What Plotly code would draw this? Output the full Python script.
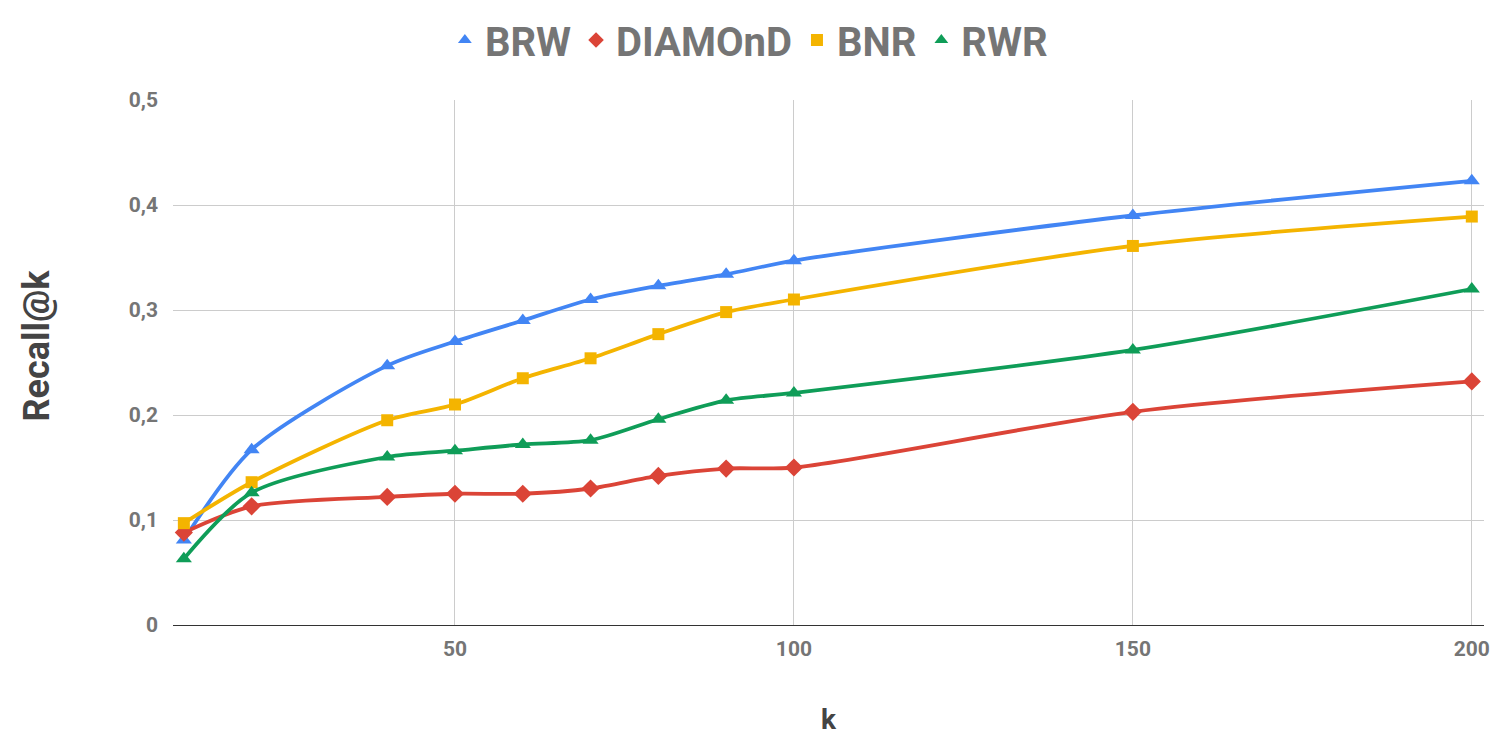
import plotly.graph_objects as go

k = [10, 20, 40, 50, 60, 70, 80, 90, 100, 150, 200]

brw = [0.081, 0.167, 0.247, 0.270, 0.290, 0.310, 0.323, 0.334, 0.347, 0.390, 0.423]
diamond = [0.088, 0.113, 0.122, 0.125, 0.125, 0.130, 0.142, 0.149, 0.150, 0.203, 0.232]
bnr = [0.097, 0.136, 0.195, 0.210, 0.235, 0.254, 0.277, 0.298, 0.310, 0.361, 0.389]
rwr = [0.063, 0.126, 0.160, 0.166, 0.172, 0.176, 0.196, 0.214, 0.221, 0.262, 0.320]

x_ticks = [50, 100, 150, 200]
y_ticks = [0, 0.1, 0.2, 0.3, 0.4, 0.5]

series = [
    ("BRW", brw, "#4285F4", "triangle-up", 14),
    ("DIAMOnD", diamond, "#DB4437", "diamond", 14),
    ("BNR", bnr, "#F4B400", "square", 12),
    ("RWR", rwr, "#0F9D58", "triangle-up", 14),
]

FONT = "Roboto"

fig = go.Figure()

# lines drawn first, legend handled by marker-only stand-ins
for name, values, color, symbol, size in series:
    fig.add_trace(go.Scatter(
        x=k, y=values, name=name, mode="lines+markers",
        line=dict(color=color, width=3.8, shape="spline", smoothing=0.8),
        marker=dict(symbol=symbol, size=size, color=color),
        showlegend=False,
    ))

for name, values, color, symbol, size in series:
    fig.add_trace(go.Scatter(
        x=[None], y=[None], name=name, mode="markers",
        marker=dict(symbol=symbol, size=12, color=color),
    ))

# the page body adds an 8px offset, margins account for it
fig.update_layout(
    width=1512, height=736,
    paper_bgcolor="white", plot_bgcolor="white",
    margin=dict(l=165, r=36, t=92, b=119),
    separators=", ",
    font=dict(family=FONT),
    legend=dict(
        orientation="h", xref="container", yref="container",
        x=0.49, xanchor="center", y=1 - 32 / 736, yanchor="middle",
        font=dict(size=40, color="#757575", weight="bold"),
        itemwidth=30, traceorder="normal",
    ),
)

# y title sits a little above the plot centre in the original
fig.add_annotation(
    text="Recall@k", textangle=-90, showarrow=False,
    xref="paper", yref="paper", x=0, y=0.5,
    xanchor="center", yanchor="middle", xshift=-137, yshift=17,
    font=dict(size=36, color="#444444", weight="bold"),
)

fig.update_xaxes(
    range=[8.4, 201.8], tickvals=x_ticks, automargin=False,
    showgrid=True, gridcolor="#cccccc", gridwidth=1,
    zeroline=False, showline=True, linecolor="#333333", linewidth=1,
    ticks="", ticklabelstandoff=5,
    tickfont=dict(size=21, color="#757575", weight="bold"),
    title=dict(text="k", standoff=49,
               font=dict(size=28, color="#444444", weight="bold")),
)
fig.update_yaxes(
    range=[0, 0.5], tickvals=y_ticks, automargin=False,
    showgrid=True, gridcolor="#cccccc", gridwidth=1,
    zeroline=False, showline=False,
    ticks="", ticklabelstandoff=14,
    tickfont=dict(size=21, color="#757575", weight="bold"),
)

fig.write_html("out.html")
